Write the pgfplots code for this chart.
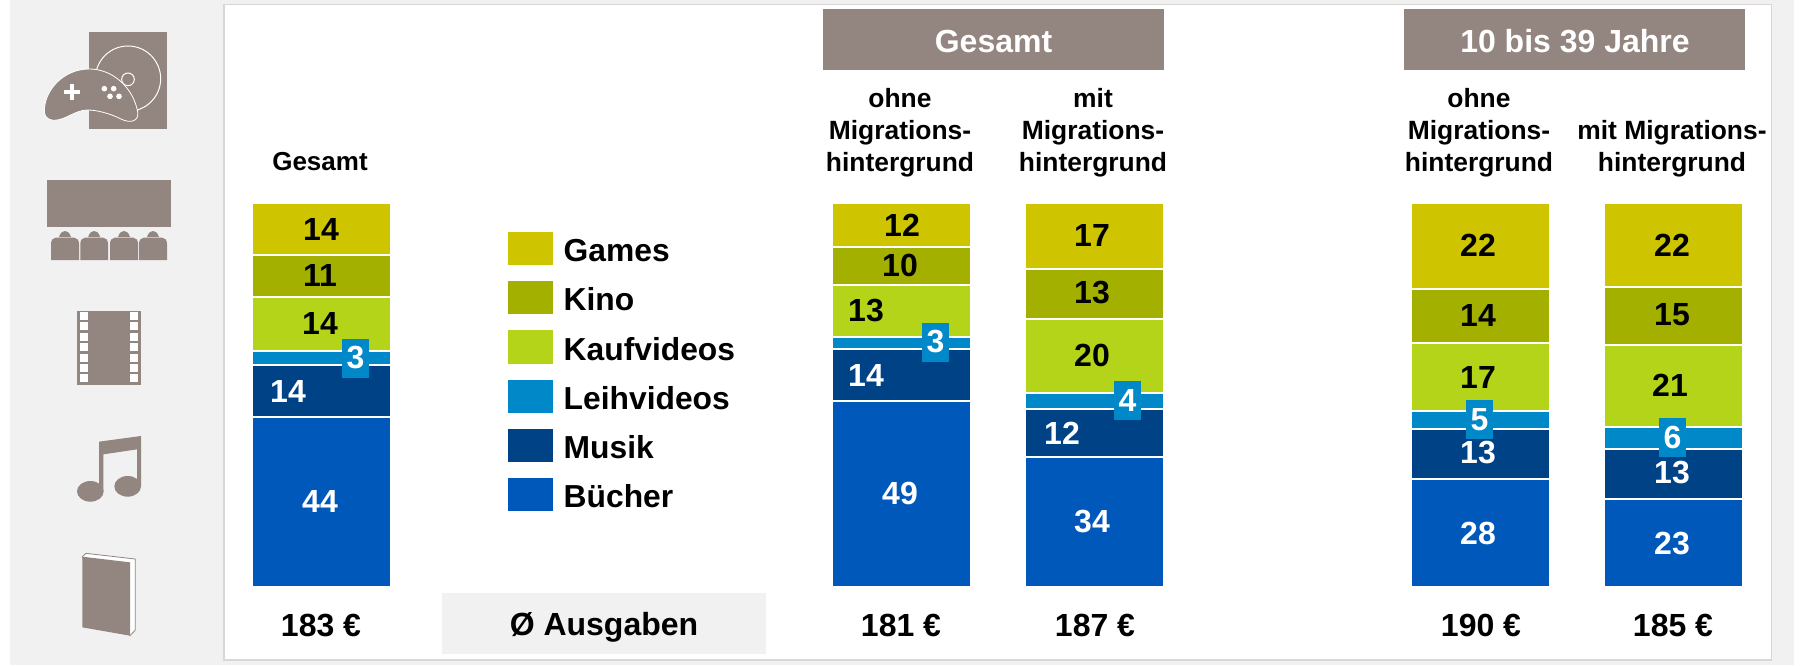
\documentclass[border=0pt]{standalone}
\usepackage{pgfplots}
\usepackage{pgfplotstable}
\usepackage{fontspec}
\setmainfont{Liberation Sans}
\pgfplotsset{compat=1.18}
\definecolor{cGames}{HTML}{CEC500}
\definecolor{cKino}{HTML}{A3B000}
\definecolor{cKauf}{HTML}{B4D419}
\definecolor{cLeih}{HTML}{0088C9}
\definecolor{cMusik}{HTML}{004286}
\definecolor{cBuch}{HTML}{0059BA}
\definecolor{cTaupe}{HTML}{93857F}
\definecolor{cPanel}{HTML}{F1F1F2}
\definecolor{cFrame}{HTML}{D9D6D3}
\newcommand{\fnt}[1]{\fontsize{#1pt}{#1pt}\bfseries\selectfont}
% share of spending, percent, as drawn
\pgfplotstableread{
x    buch  musik leih kauf  kino  games
321  44.27 13.54 3.65 14.06 10.94 13.54
901  48.44 13.54 3.13 13.54  9.90 11.46
1094 33.85 12.50 4.17 19.27 13.02 17.19
1480 28.13 13.02 4.69 17.71 14.06 22.40
1673 22.92 13.02 5.73 21.35 15.10 21.88
}\shares
\begin{document}
\begin{tikzpicture}
\useasboundingbox (0,0) rectangle (900.5pt,332.5pt);
\begin{scope}[x=0.5pt,y=-0.5pt,yshift=332.5pt]
  \fill[cPanel] (10,0) rectangle (1794,665);
  \fill[white,draw=cFrame,line width=0.8pt] (224,4.5) rectangle (1771.5,660);
  \fill[cPanel] (442,593) rectangle (766,654);
  \fill[cTaupe] (823,9) rectangle (1164,70);
  \fill[cTaupe] (1404,9) rectangle (1745,70);
\end{scope}
\begin{axis}[
  at={(0,0)},anchor=south west,scale only axis,width=900.5pt,height=332.5pt,
  xmin=0,xmax=1801,ymin=-20.3125,ymax=152.8646,hide axis,clip=false,
  ybar stacked,bar width=69.5pt,
  legend style={at={(507.7/1801,1-232/665)},anchor=north west,draw=none,fill=none,
    inner sep=0pt,outer sep=0pt,row sep=8pt,
    font=\fnt{15.9},
    nodes={inner sep=0pt,outer sep=0pt,text height=14.6pt,text depth=1pt},
    /tikz/column 1/.style={column sep=5.5pt}},
  legend cell align=left,reverse legend,
  sw/.style={draw=white,line width=1pt,fill=#1,
    legend image code/.code={\fill[#1] (0pt,-8pt) rectangle (21.5pt,7.6pt);}},
]
\addplot[sw=cBuch]  table[x=x,y=buch]  {\shares};
\addplot[sw=cMusik] table[x=x,y=musik] {\shares};
\addplot[sw=cLeih]  table[x=x,y=leih]  {\shares};
\addplot[sw=cKauf]  table[x=x,y=kauf]  {\shares};
\addplot[sw=cKino]  table[x=x,y=kino]  {\shares};
\addplot[sw=cGames] table[x=x,y=games] {\shares};
\legend{Bücher,Musik,Leihvideos,Kaufvideos,Kino,Games}
\end{axis}
\begin{axis}[
  at={(0,0)},anchor=south west,scale only axis,width=900.5pt,height=332.5pt,
  xmin=0,xmax=1801,ymin=0,ymax=665,y dir=reverse,hide axis,clip=false,
  lab/.style={only marks,mark=none,point meta=explicit symbolic,nodes near coords,
    nodes near coords align={center},
    every node near coord/.append style={anchor=center,inner sep=0pt,outer sep=0pt,font=\fnt{16},#1}},
]
\addplot[lab={text=black}] table[x=x,y=y,meta=t] {
x y t
321 229 14
320 275 11
320 323 14
902 225 12
900 265 10
866 311 13
1092 235 17
1092 293 13
1092 355 20
1478 245 22
1478 315 14
1478 377 17
1672 245 22
1672 315 15
1670 385 21
};
\addplot[lab={text=white}] table[x=x,y=y,meta=t] {
x y t
288 391 14
320 501 44
866 375 14
900 493 49
1062 433 12
1092 521 34
1478 453 13
1478 533 28
1672 473 13
1672 543 23
};
\addplot[lab={text=white,fill=cLeih,minimum width=13.5pt,minimum height=19.5pt}] table[x=x,y=y,meta=t] {
x y t
355.5 358 3
935.5 342 3
1127.5 400 4
1479.5 419.5 5
1672.5 437.5 6
};
\addplot[lab={text=black}] table[x=x,y=y,meta=t] {
x y t
321 625 {183 €}
901 625 {181 €}
1095 625 {187 €}
1481 625 {190 €}
1673 625 {185 €}
};
\addplot[lab={text=black,font=\fnt{16}}] table[x=x,y=y,meta=t] {
x y t
604 627.5 {Ø Ausgaben}
};
\addplot[lab={text=white,font=\fnt{16}}] table[x=x,y=y,meta=t] {
x y t
993.5 41 Gesamt
1575 41 {10 bis 39 Jahre}
};
\end{axis}
\begin{scope}[x=0.5pt,y=-0.5pt,yshift=332.5pt,every node/.style={inner sep=0pt,font=\fnt{13.2},align=center}]
  \node[anchor=center,font=\fnt{13}] at (320,162) {Gesamt};
  \node[anchor=base] at (900,108) {ohne};
  \node[anchor=base] at (900,140) {Migrations-};
  \node[anchor=base] at (900,172) {hintergrund};
  \node[anchor=base] at (1093,108) {mit};
  \node[anchor=base] at (1093,140) {Migrations-};
  \node[anchor=base] at (1093,172) {hintergrund};
  \node[anchor=base] at (1479,108) {ohne};
  \node[anchor=base] at (1479,140) {Migrations-};
  \node[anchor=base] at (1479,172) {hintergrund};
  \node[anchor=base] at (1672,140) {mit Migrations-};
  \node[anchor=base] at (1672,172) {hintergrund};
\end{scope}
% icons, in units of one third of a pixel
\begin{scope}[x=0.16667pt,y=-0.16667pt,yshift=332.5pt]
  % game + disc
  \fill[cTaupe] (267,96) rectangle (501,386);
  \draw[white,line width=0.5pt] (384,236) circle[radius=98];
  \draw[white,line width=0.5pt] (384,238) circle[radius=19];
  \fill[cTaupe,draw=white,line width=0.4pt] (133,330) .. controls (135,270) and (190,207) .. (268,207)
    .. controls (340,207) and (400,265) .. (413,335) .. controls (418,365) and (390,370) .. (365,358)
    .. controls (330,340) and (290,330) .. (262,330) .. controls (225,330) and (195,362) .. (160,361)
    .. controls (140,360) and (132,345) .. (133,330) -- cycle;
  \fill[white] (192,271) rectangle (240,281);
  \fill[white] (211,252) rectangle (221,300);
  \foreach \p in {(313,266),(341,266),(330,289),(357,289)} \fill[white] \p circle[radius=8.5];
  % cinema
  \fill[cTaupe] (141,540) rectangle (513,681);
  \foreach \a/\b in {153/237,241/324,330/414,417/501}{
    \fill[cTaupe] (\a,780) -- (\a,732) .. controls (\a,720) and (\a+6,713) .. (\a+14,713)
      -- (\b-14,713) .. controls (\b-6,713) and (\b,720) .. (\b,732) -- (\b,780) -- cycle;
    \fill[cTaupe] (\a/2+\b/2-18,711) .. controls (\a/2+\b/2-14,697) and (\a/2+\b/2-6,693) .. (\a/2+\b/2,693)
      .. controls (\a/2+\b/2+6,693) and (\a/2+\b/2+14,697) .. (\a/2+\b/2+18,711) -- cycle;
  }
  % film
  \fill[cTaupe] (231,933) rectangle (423,1154);
  \foreach \s/\e in {936/960,967/991,998/1022,1029/1053,1061/1085,1092/1115,1122/1146}{
    \fill[white] (240,\s) rectangle (264,\e);
    \fill[white] (390,\s) rectangle (414,\e);
  }
  % notes
  \fill[cTaupe] (297,1325) -- (423,1308) -- (423,1460) -- (411,1460) -- (411,1348) -- (310,1363) -- (310,1475) -- (297,1475) -- cycle;
  \fill[cTaupe] (271,1474) ellipse[x radius=40,y radius=31];
  \fill[cTaupe] (383,1459) ellipse[x radius=40,y radius=31];
  % book
  \fill[white,draw=cTaupe,line width=0.4pt] (247,1670) -- (258,1660) -- (406,1677) -- (406,1890) -- (390,1907) -- cycle;
  \fill[cTaupe] (247,1670) -- (390,1687) -- (390,1907) -- (247,1882) -- cycle;
\end{scope}
\end{tikzpicture}
\end{document}
